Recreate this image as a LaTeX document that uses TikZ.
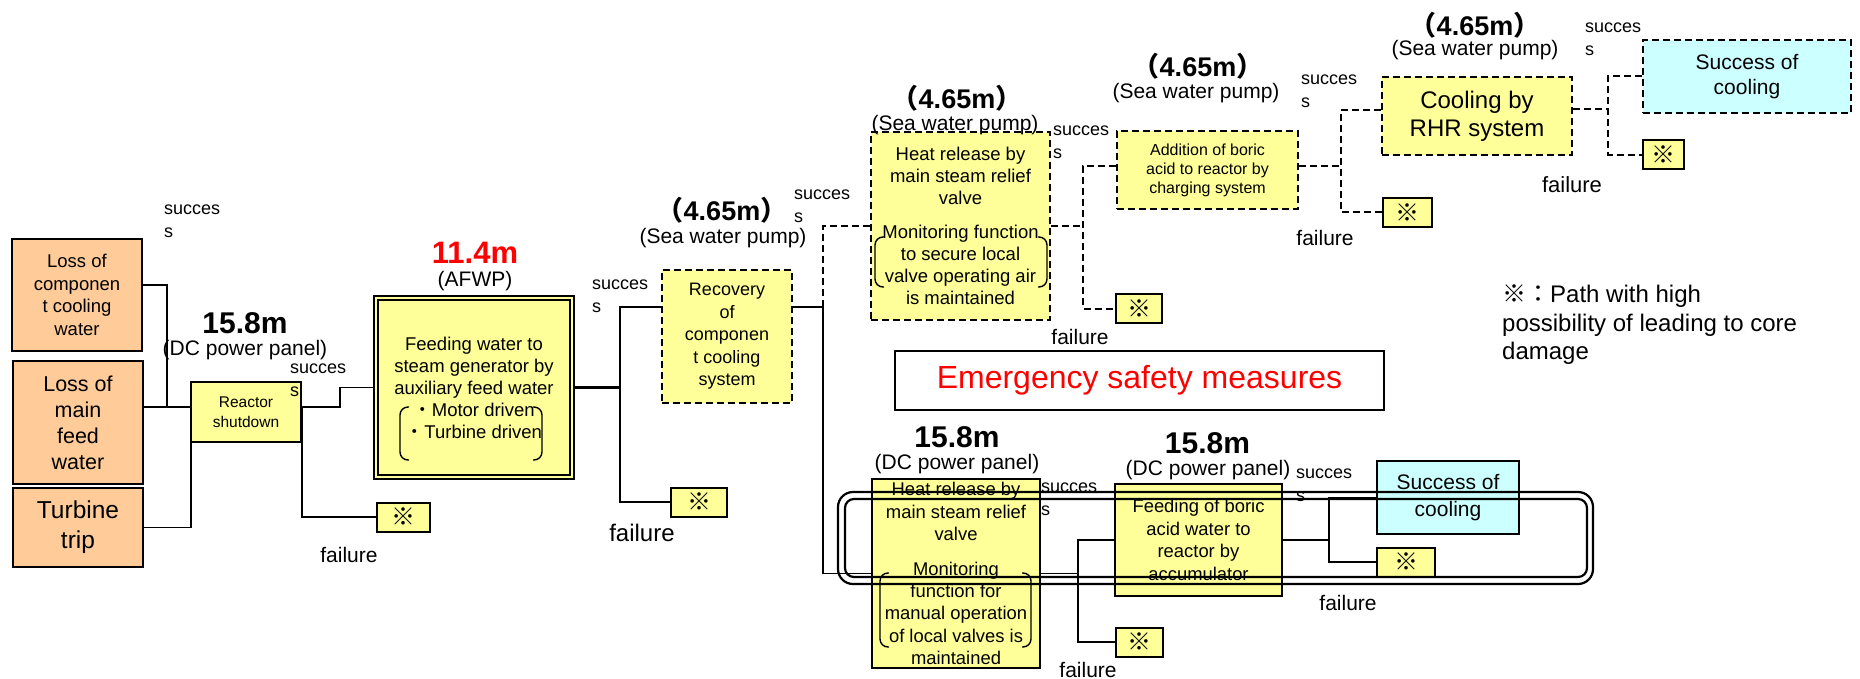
\documentclass[tikz,border=0pt]{standalone}
\usepackage{fontspec}
\setmainfont{Liberation Sans}
\newfontfamily\cjk{Noto Sans CJK JP}
\usetikzlibrary{positioning}
\definecolor{peach}{HTML}{FFCC99}
\definecolor{lightyellow}{HTML}{FFFF99}
\definecolor{lightcyan}{HTML}{CCFFFF}
\newcommand\fsz[2]{\fontsize{#1}{#2}\selectfont}

\begin{document}
\begin{tikzpicture}[x=1pt,y=-1pt,
  wh/.style 2 args={minimum width=#1pt,minimum height=#2pt},
  blk/.style={draw,line width=2pt,align=center,inner sep=0pt},
  event/.style={blk,fill=peach},
  func/.style={blk,fill=lightyellow},
  dfunc/.style={func,dash pattern=on 7pt off 4pt},
  endstate/.style={blk,fill=lightcyan},
  markbox/.style={blk,fill=lightyellow,minimum height=29pt,font=\cjk\fsz{24}{24}},
  succlbl/.style={anchor=west,align=left,inner sep=0pt,font=\fsz{18}{23}},
  faillbl/.style={inner sep=0pt},
  heightlbl/.style={inner sep=0pt,font=\bfseries\fsz{30}{30}},
  floorlbl/.style={inner sep=0pt,font=\fsz{21}{21}},
  conn/.style={line width=1.9pt},
  dconn/.style={line width=2pt,dash pattern=on 7pt off 4pt}]
\useasboundingbox (0,0) rectangle (1860,679);

% initiating events
\node[event,wh={130}{112},font=\fsz{18.5}{22.7}] (lccw) at (77,295) {Loss of\\componen\\t cooling\\water};
\node[event,wh={130}{123},font=\fsz{21.5}{26}] (lmfw) at (78,422.5) {Loss of\\main\\feed\\water};
\node[event,wh={130}{79},font=\fsz{24.5}{30}] (ttrip) at (78,527.5) {Turbine\\trip};

% headings
\node[func,wh={110}{60},font=\fsz{15.5}{20}] (rshut) at (246,412) {Reactor\\shutdown};
\node[func,wh={196}{179},line width=2pt,double=lightyellow,double distance=2.5pt,font=\fsz{18.5}{22}] (afwp) at (474,387.5)
  {Feeding water to\\steam generator by\\auxiliary feed water\\{\cjk ・}Motor driven\\{\cjk ・}Turbine driven};
\node[dfunc,wh={130}{133},font=\fsz{18}{22.5}] (recov) at (727,336.5) {Recovery\\of\\componen\\t cooling\\system};
\node[dfunc,wh={179}{188},font=\fsz{18.5}{22.2}] (hrup) at (960.5,226)
  {Heat release by\\main steam relief\\valve\\[11pt]Monitoring function\\to secure local\\valve operating air\\is maintained};
\node[dfunc,wh={181}{78},font=\fsz{16}{19}] (boric) at (1207.5,170) {Addition of boric\\acid to reactor by\\charging system};
\node[dfunc,wh={190}{78},font=\fsz{24}{28}] (rhr) at (1477,116) {Cooling by\\RHR system};
\node[endstate,dash pattern=on 7pt off 4pt,wh={208}{73},font=\fsz{21}{25}] (succup) at (1747,76.5) {Success of\\cooling};
\node[func,wh={168}{189},font=\fsz{18.4}{22.2}] (hrlow) at (956,573.5)
  {Heat release by\\main steam relief\\valve\\[13pt]Monitoring\\function for\\manual operation\\of local valves is\\maintained};
\node[func,wh={167}{112},font=\fsz{18.4}{22.5}] (accum) at (1198.5,540) {Feeding of boric\\acid water to\\reactor by\\accumulator};
\node[endstate,wh={142}{73},font=\fsz{21}{26.5}] (succlow) at (1448,497.5) {Success of\\cooling};
\node[blk,fill=white,wh={489}{59},text=red,font=\fsz{32}{32}] (esm) at (1139.5,380.5) {Emergency safety measures};

\def\marks{f1/403.5/517/53,f2/699/502/56,f3/1139/308.5/46,f4/1407.5/212.5/49,f5/1663.5/155/41,f6/1139.5/642/47,f7/1406/562/58}
\foreach \n/\x/\y/\w in \marks
  \node[markbox,minimum width=\w] (\n) at (\x,\y) {※};

% brackets
\begin{scope}[line width=1.4pt,rounded corners=8pt]
\draw (409,407) -- (400,407) -- (400,460) -- (409,460);
\draw (533,407) -- (542,407) -- (542,460) -- (533,460);
\draw (884,237) -- (875,237) -- (875,287) -- (884,287);
\draw (1038,237) -- (1047,237) -- (1047,287) -- (1038,287);
\draw (889,573) -- (880,573) -- (880,647) -- (889,647);
\draw (1022,573) -- (1031,573) -- (1031,647) -- (1022,647);
\end{scope}

% levels
\node[heightlbl] (h1) at (245,323) {15.8m};
\node[floorlbl] (h1sub) at (245,350) {(DC power panel)};
\node[heightlbl,text=red,font=\bfseries\fsz{31}{31}] (h2) at (475,253) {11.4m};
\node[floorlbl] (h2sub) at (475,281) {(AFWP)};
\foreach \n/\x/\y/\xx/\yy in {h3/722/210/723/238,h4/957/98/955/125,h5/1198/66/1196/93,h6/1475/25/1475/50} {
  \node[heightlbl,font=\bfseries\fsz{27}{27}] (\n) at (\x,\y) {\kern-.4em{\cjk （}4.65m{\cjk ）}\kern-.4em};
  \node[floorlbl] (sub\n) at (\xx,\yy) {(Sea water pump)};
}
\node[heightlbl] (h7) at (957,437) {15.8m};
\node[floorlbl] (h7sub) at (957,464) {(DC power panel)};
\node[heightlbl] (h8) at (1207.5,443) {15.8m};
\node[floorlbl] (h8sub) at (1208,470) {(DC power panel)};

\def\succs{s1/164/221.5,s2/290/380,s3/592/296.5,s4/794/206,s5/1053/142.5,s6/1301/91,s7/1585/39,s8/1041/499,s9/1296/485}
\foreach \n/\x/\y in \succs
  \node[succlbl] (\n) at (\x,\y) {succes\\s};
\def\fails{l1/349/555/21,l2/642/533/24,l3/1080/337/21,l4/1325/238/21,l5/1572/185/22,l6/1088/670/21,l7/1348/603/21}
\foreach \n/\x/\y/\s in \fails
  \node[faillbl,font=\fsz{\s}{\s}] (\n) at (\x,\y) {failure};

\node[anchor=west,align=left,inner sep=0pt,font=\fsz{24}{28.5}] (legend) at (1502,325)
  {{\cjk ※：}Path with high\\possibility of leading to core\\damage};

% connectors
\coordinate (j1) at (167,407);
\coordinate (j3) at (620,387.5);
\coordinate (j4) at (823,307);
\coordinate (j5) at (1083,226);
\coordinate (j6) at (1341,166);
\coordinate (j7) at (1608,109);
\coordinate (j8) at (1078,573.5);
\coordinate (j9) at (1329,540);

\draw[conn] ([yshift=10pt]lccw.east) -| (j1);
\draw[conn] (lmfw.east |- j1) -- (rshut.west |- j1);
\draw[conn] (ttrip.east) -| ([xshift=1pt]rshut.south west);
\draw[conn] (rshut.east |- j1) -- ++(38,0) |- (afwp.west);
\draw[conn] (rshut.east |- j1) |- (f1.west);
\draw[conn,line width=2.3pt] (afwp.east) -- (j3);
\draw[conn] (recov.west |- j4) -| (j3) |- (f2.west);
\draw[conn] (recov.east |- j4) -- (j4) |- (hrlow.west);
\draw[dconn] (j4) |- (hrup.west);
\draw[dconn] (hrup.east) -- (j5);
\draw[dconn] (boric.west |- j6) -| (j5) |- (f3.west);
\draw[dconn] (boric.east |- j6) -- (j6);
\draw[dconn] (rhr.west |- j7) ++(0,1) -| (j6) |- (f4.west);
\draw[dconn] (rhr.east |- j7) -- (j7);
\draw[dconn] (succup.west) -| (j7) |- (f5.west);
\draw[conn] (hrlow.east) -- (j8);
\draw[conn] (accum.west) -| (j8) |- (f6.west);
\draw[conn] (accum.east) -- (j9);
\draw[conn] (succlow.west) -| (j9) |- (f7.west);

% frame round the bottom branch
\draw[line width=2.2pt,rounded corners=15pt] (838,492) rectangle (1593,584);
\draw[line width=2.2pt,rounded corners=9pt] (845,499) rectangle (1587,577);
\end{tikzpicture}
\end{document}
